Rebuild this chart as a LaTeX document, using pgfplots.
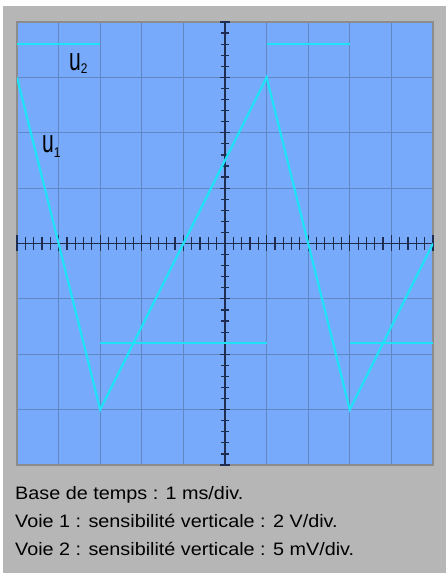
\documentclass[border=0pt]{standalone}
\usepackage{pgfplots}
\pgfplotsset{compat=1.18}
\usepackage{fontspec}
\setmainfont{Liberation Sans}
\newfontfamily\ufont[FakeStretch=0.66]{Liberation Sans}
\newfontfamily\subfont[FakeStretch=0.85]{Liberation Sans}
\newfontfamily\capfont[FakeStretch=1.1]{Liberation Sans}

\definecolor{bezel}{RGB}{182,182,182}
\definecolor{screen}{RGB}{120,170,252}
\definecolor{gridc}{RGB}{98,136,196}
\definecolor{trace}{RGB}{30,226,245}
\definecolor{tickc}{RGB}{30,45,80}
\definecolor{framec}{RGB}{140,140,140}

\pgfplotsset{
  scope/.style={at={(17pt,108pt)}, anchor=south west, scale only axis,
    width=416pt, height=443pt, ymin=-4, ymax=4},
}

\begin{document}
\begin{tikzpicture}[x=1pt,y=1pt]
\fill[white] (0,0) rectangle (446,573);
\fill[bezel] (3,0) rectangle (446,567);

% screen with grid
\begin{axis}[scope, xmin=0, xmax=10,
    xtick={0,...,10}, ytick={-4,...,4},
    xticklabels={}, yticklabels={},
    tick style={draw=none},
    grid=major, major grid style={gridc, line width=0.9pt},
    axis background/.style={fill=screen},
    axis line style={draw=framec, line width=2.2pt}]
\end{axis}

% central cross, horizontal
\begin{axis}[scope, xmin=-5, xmax=5,
    axis x line=middle, axis y line=none,
    xtick={-5,...,5}, minor tick num=4, xticklabels={},
    tick align=center, major tick length=16pt, minor tick length=13pt,
    axis line style={tickc, line width=1.2pt, -},
    tick style={tickc, line width=1.2pt}]
\end{axis}

% central cross, vertical
\begin{axis}[scope, xmin=-5, xmax=5,
    axis y line=middle, axis x line=none,
    ytick={-4,...,4}, minor tick num=4, yticklabels={},
    tick align=center, major tick length=10pt, minor tick length=8pt,
    axis line style={tickc, line width=1.2pt, -},
    tick style={tickc, line width=1.2pt}]
\end{axis}

% traces
\begin{axis}[scope, xmin=0, xmax=10, hide axis, unbounded coords=jump]
\addplot[trace, line width=2.2pt] coordinates {
  (0,3) (2,-3) (6,3) (8,-3) (10,0)
};
\addplot[trace, line width=2.4pt] coordinates {
  (0,3.6) (2,3.6) (2,nan) (2,-1.8) (6,-1.8) (6,nan)
  (6,3.6) (8,3.6) (8,nan) (8,-1.8) (10,-1.8)
};
\node[anchor=base west, inner sep=0pt] at (axis cs:1.25,3.13)
  {\fontsize{32}{32}\ufont u\raisebox{-3pt}{\fontsize{14}{14}\subfont 2}};
\node[anchor=base west, inner sep=0pt] at (axis cs:0.60,1.635)
  {\fontsize{32}{32}\ufont u\raisebox{-5pt}{\fontsize{14}{14}\subfont 1}};
\end{axis}

\node[anchor=base west, inner sep=0pt, font=\fontsize{18}{20}\capfont] at (15,73)
  {Base de temps : 1 ms/div.};
\node[anchor=base west, inner sep=0pt, font=\fontsize{18}{20}\capfont] at (15,45)
  {Voie 1 : sensibilité verticale : 2 V/div.};
\node[anchor=base west, inner sep=0pt, font=\fontsize{18}{20}\capfont] at (15,17)
  {Voie 2 : sensibilité verticale : 5 mV/div.};
\end{tikzpicture}
\end{document}
